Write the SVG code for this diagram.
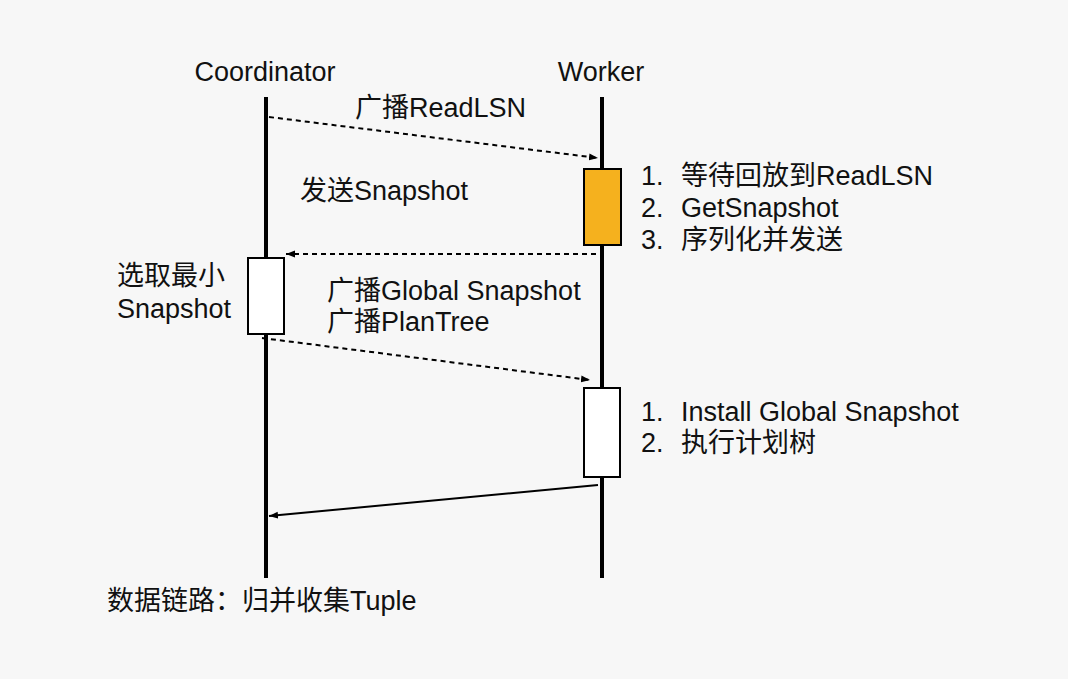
<svg xmlns="http://www.w3.org/2000/svg" width="1068" height="679" viewBox="0 0 1068 679">
<defs>
<style>
text{font-family:"Liberation Sans","Noto Sans CJK SC",sans-serif;font-size:27px;fill:#111;}
.life{stroke:#000;stroke-width:4;}
.act{stroke:#000;stroke-width:2;}
.dash{stroke:#000;stroke-width:2;stroke-dasharray:5 4;fill:none;}
.solid{stroke:#000;stroke-width:2;fill:none;}
</style>
<marker id="ah" markerUnits="userSpaceOnUse" markerWidth="10" markerHeight="8" refX="9" refY="4" orient="auto">
<path d="M0,0.5 L9,4 L0,7.5 z" fill="#000"/>
</marker>
</defs>
<rect x="0" y="0" width="1068" height="679" fill="#F7F7F7"/>
<g id="coordinator">
<text x="265" y="81" text-anchor="middle">Coordinator</text>
<line class="life" x1="266" y1="97" x2="266" y2="578"/>
</g>
<g id="worker">
<text x="601" y="81" text-anchor="middle">Worker</text>
<line class="life" x1="602" y1="97" x2="602" y2="578"/>
</g>
<g id="worker-act1">
<rect class="act" x="584" y="169" width="37" height="76" fill="#F5B11E"/>
<text x="641" y="185">1.<tspan x="681">等待回放到ReadLSN</tspan></text>
<text x="641" y="217">2.<tspan x="681">GetSnapshot</tspan></text>
<text x="641" y="249">3.<tspan x="681">序列化并发送</tspan></text>
</g>
<g id="coord-act">
<rect class="act" x="248" y="258" width="36" height="76" fill="#FFFFFF"/>
<text x="117" y="285">选取最小</text>
<text x="117" y="318">Snapshot</text>
</g>
<g id="worker-act2">
<rect class="act" x="584" y="388" width="36" height="89" fill="#FFFFFF"/>
<text x="641" y="421">1.<tspan x="681">Install Global Snapshot</tspan></text>
<text x="641" y="452">2.<tspan x="681">执行计划树</tspan></text>
</g>
<g id="connectors">
<line class="dash" x1="269" y1="117" x2="598" y2="158" marker-end="url(#ah)"/>
<line class="dash" x1="596" y1="254" x2="286" y2="254" marker-end="url(#ah)"/>
<line class="dash" x1="262" y1="338" x2="590" y2="380" marker-end="url(#ah)"/>
<line class="solid" x1="598" y1="485" x2="269" y2="516" marker-end="url(#ah)"/>
</g>
<g id="labels">
<text x="355" y="117">广播ReadLSN</text>
<text x="300" y="200">发送Snapshot</text>
<text x="327" y="300">广播Global Snapshot</text>
<text x="327" y="331">广播PlanTree</text>
<text x="107" y="610">数据链路：归并收集Tuple</text>
</g>
</svg>
